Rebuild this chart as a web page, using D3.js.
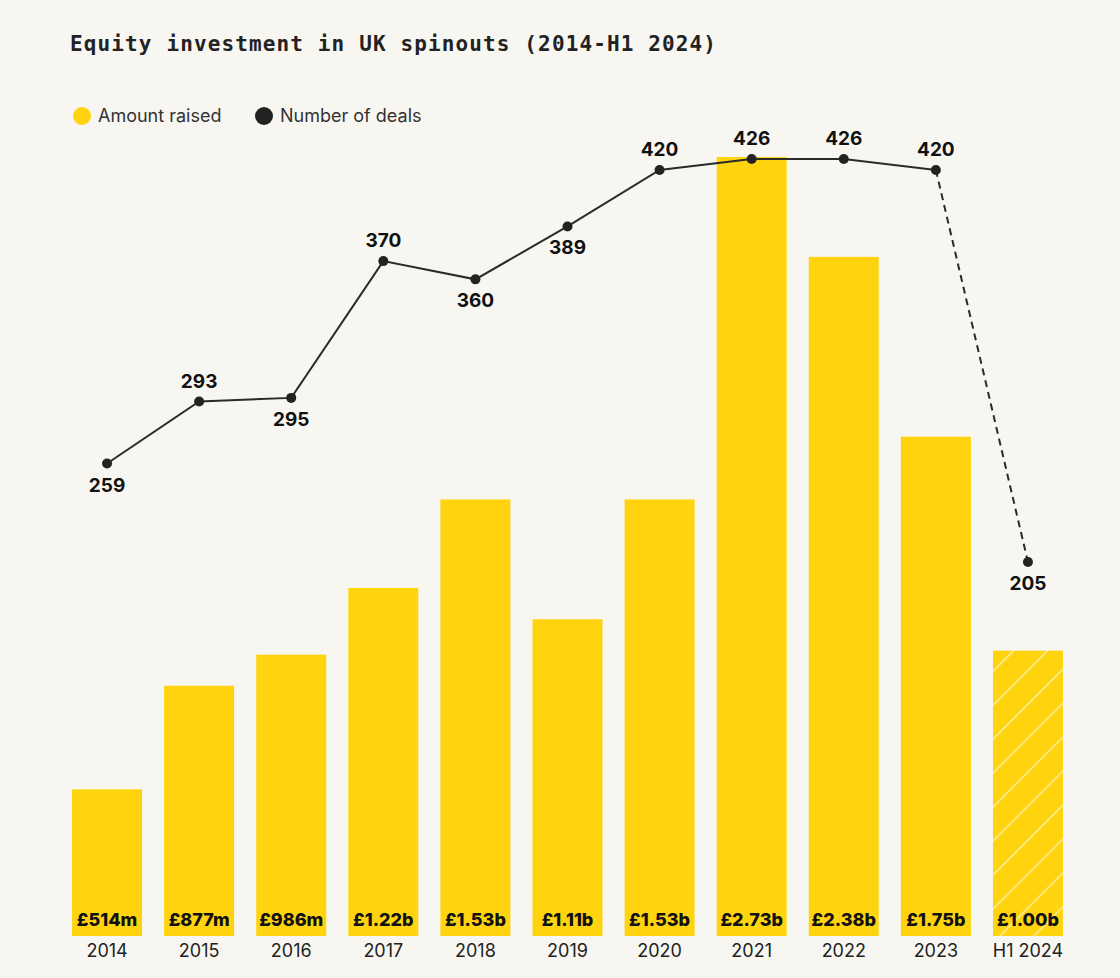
<!DOCTYPE html>
<html><head><meta charset="utf-8">
<script src="https://cdn.jsdelivr.net/npm/d3@7"></script>
<style>
html,body{margin:0;padding:0;background:#f8f6f1;}
svg{display:block;}
</style></head>
<body>
<script>
const categories = ["2014","2015","2016","2017","2018","2019","2020","2021","2022","2023","H1 2024"];
const amountRaised = [0.514,0.877,0.986,1.22,1.53,1.11,1.53,2.73,2.38,1.75,1.00];
const amountLabels = ["£514m","£877m","£986m","£1.22b","£1.53b","£1.11b","£1.53b","£2.73b","£2.38b","£1.75b","£1.00b"];
const numberOfDeals = [259,293,295,370,360,389,420,426,426,420,205];
const dealLabelPos = ["below","above","below","above","below","below","above","above","above","above","below"];

const W=1120,H=978;
const svg=d3.select("body").append("svg").attr("width",W).attr("height",H);
svg.append("rect").attr("width",W).attr("height",H).attr("fill","#f8f6f1");

const yellow="#ffd40f", dark="#222222";
const sans="Inter, 'Noto Sans', sans-serif";

const defs=svg.append("defs");
const pat=defs.append("pattern").attr("id","hatch").attr("patternUnits","userSpaceOnUse")
  .attr("width",24).attr("height",24).attr("patternTransform","rotate(45)");
pat.append("rect").attr("width",24).attr("height",24).attr("fill",yellow);
pat.append("line").attr("x1",0).attr("y1",0).attr("x2",0).attr("y2",24)
  .attr("stroke","rgba(255,255,255,0.6)").attr("stroke-width",3);

svg.append("text").attr("x",70).attr("y",51)
  .attr("font-family","'DejaVu Sans Mono', 'Liberation Mono', monospace")
  .attr("font-weight","bold").attr("font-size",21)
  .attr("textLength",646).attr("lengthAdjust","spacing")
  .attr("fill",dark).text("Equity investment in UK spinouts (2014-H1 2024)");

// legend
const lg=svg.append("g");
lg.append("circle").attr("cx",82).attr("cy",116).attr("r",9).attr("fill",yellow);
lg.append("text").attr("x",98).attr("y",122).attr("font-family",sans).attr("font-size",18).attr("fill","#333").text("Amount raised");
lg.append("circle").attr("cx",264).attr("cy",116).attr("r",9).attr("fill",dark);
lg.append("text").attr("x",280).attr("y",122).attr("font-family",sans).attr("font-size",18).attr("fill","#333").text("Number of deals");

const x=d3.scaleBand().domain(categories).range([61,1074]).paddingInner(0.24).paddingOuter(0.12);
const y=d3.scaleLinear().domain([0,2.73]).range([936,157]);
const y2=d3.scaleLinear().domain([205,426]).range([562,159]);

svg.append("g").selectAll("rect").data(categories).join("rect")
  .attr("x",d=>x(d)).attr("width",x.bandwidth())
  .attr("y",(d,i)=>y(amountRaised[i])).attr("height",(d,i)=>y(0)-y(amountRaised[i]))
  .attr("fill",(d,i)=>i===categories.length-1?"url(#hatch)":yellow);

svg.append("g").selectAll("text").data(categories).join("text")
  .attr("x",d=>x(d)+x.bandwidth()/2).attr("y",926)
  .attr("text-anchor","middle").attr("font-family",sans).attr("font-weight",800)
  .attr("font-size",18).attr("fill","#111").text((d,i)=>amountLabels[i]);

// x axis labels
const xAxis=d3.axisBottom(x).tickSize(0).tickPadding(8);
const ax=svg.append("g").attr("transform","translate(0,936)").call(xAxis);
ax.select(".domain").remove();
ax.selectAll("text").attr("font-family",sans).attr("font-size",18).attr("fill","#222");

// line
const cx=(d)=>x(d)+x.bandwidth()/2;
const pts=categories.map((c,i)=>[cx(c),y2(numberOfDeals[i])]);
const line=d3.line();
svg.append("path").attr("d",line(pts.slice(0,10))).attr("fill","none").attr("stroke","#2a2a2a").attr("stroke-width",2);
svg.append("path").attr("d",line(pts.slice(9))).attr("fill","none").attr("stroke","#2a2a2a").attr("stroke-width",2).attr("stroke-dasharray","7,5");
svg.append("g").selectAll("circle").data(pts).join("circle")
  .attr("cx",d=>d[0]).attr("cy",d=>d[1]).attr("r",5).attr("fill",dark);
svg.append("g").selectAll("text").data(pts).join("text")
  .attr("x",d=>d[0]).attr("y",(d,i)=>dealLabelPos[i]==="above"?d[1]-14:d[1]+28)
  .attr("text-anchor","middle").attr("font-family",sans).attr("font-weight","bold")
  .attr("font-size",19).attr("fill","#111").text((d,i)=>numberOfDeals[i]);
</script>
</body></html>
